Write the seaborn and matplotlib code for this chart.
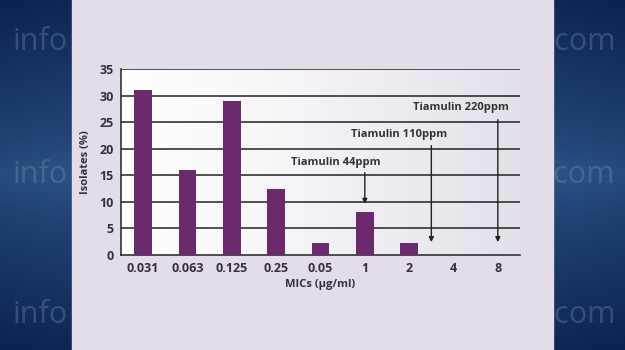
import numpy as np
import pandas as pd
import matplotlib
matplotlib.use("Agg")
import matplotlib.pyplot as plt
import seaborn as sns
from matplotlib.patches import Rectangle

categories = ["0.031", "0.063", "0.125", "0.25", "0.05", "1", "2", "4", "8"]
isolates = [31, 16, 29, 12.4, 2.2, 8, 2.2, 0, 0]
yticks = [0, 5, 10, 15, 20, 25, 30, 35]
annotations = ["Tiamulin 44ppm", "Tiamulin 110ppm", "Tiamulin 220ppm"]
arrow_x = [5, 6.5, 8]
arrow_top = [16.0, 21.1, 26.0]
arrow_bottom = [9.1, 1.9, 1.9]
text_x = [4.35, 5.77, 7.16]
text_y = [17.4, 22.6, 27.7]

sns.set_theme(style="white")
plt.rcParams['font.family'] = ['Open Sans', 'DejaVu Sans']

fig = plt.figure(figsize=(6.25, 3.5), dpi=100)
fig.patch.set_facecolor("#1d3a68")

# background gradient on blue side panels + lavender central panel
bg = fig.add_axes([0, 0, 1, 1], zorder=-10)
gy = np.linspace(0, 1, 100)[:, None]
gx = np.linspace(0, 1, 200)[None, :]
img = np.abs(gy - 0.5) * 1.2 + np.abs(gx - 0.5) * 0.6
bg.imshow(img, extent=[0, 1, 0, 1], aspect="auto", zorder=0,
          cmap=matplotlib.colors.LinearSegmentedColormap.from_list("b", ["#3a6498", "#1e3f70", "#0c2250"]))
bg.add_patch(Rectangle((72 / 625, 0), (553 - 72) / 625, 1, color="#e2dde9", transform=bg.transAxes, zorder=2))
for (x, y, s, ha) in [(0.02, 0.88, "info", "left"), (0.985, 0.88, "x.com", "right"),
                      (0.02, 0.5, "info", "left"), (0.985, 0.5, ".com", "right"),
                      (0.02, 0.1, "info", "left"), (0.985, 0.1, "x.com", "right")]:
    bg.text(x, y, s, color="#8aa3c4", alpha=0.3, fontsize=22, ha=ha, va="center",
            transform=bg.transAxes, zorder=1)
bg.set_xlim(0, 1); bg.set_ylim(0, 1)
bg.axis("off")

ax = fig.add_axes([121 / 625, 1 - 255 / 350, (520 - 121) / 625, (255 - 69) / 350])
ax.set_facecolor("none")
# white-to-lavender gradient inside plot area
g = np.linspace(0, 1, 100)[None, :]
ax.imshow(g, extent=[-0.5, 8.5, 0, 35], aspect="auto", zorder=0,
          cmap=matplotlib.colors.LinearSegmentedColormap.from_list("p", ["#ffffff", "#f4f2f6", "#e4e0ea"]))

df = pd.DataFrame({"MIC": categories, "Isolates": isolates})
sns.barplot(data=df, x="MIC", y="Isolates", color="#6a2a6c", saturation=1, width=0.4,
            linewidth=0, edgecolor="#6a2a6c", ax=ax, zorder=3)

ax.set_xlim(-0.5, 8.5)
ax.set_ylim(0, 35)
ax.set_yticks(yticks)
for yv in yticks[1:]:
    ax.axhline(yv, color="#222222", lw=1.1, zorder=2)
for s in ["top", "right"]:
    ax.spines[s].set_visible(False)
for s in ["left", "bottom"]:
    ax.spines[s].set_color("#222222")
    ax.spines[s].set_linewidth(1.1)
ax.tick_params(axis="both", length=0, labelsize=9, colors="#333333", pad=5)
for lab in ax.get_xticklabels() + ax.get_yticklabels():
    lab.set_fontweight("bold")
ax.set_xlabel("MICs (µg/ml)", fontsize=8, fontweight="bold", color="#333333", labelpad=3)
ax.set_ylabel("Isolates (%)", fontsize=8, fontweight="bold", color="#333333", labelpad=6)

for t, ax_x, top, bot, tx, ty in zip(annotations, arrow_x, arrow_top, arrow_bottom, text_x, text_y):
    ax.annotate("", xy=(ax_x, bot), xytext=(ax_x, top),
                arrowprops=dict(arrowstyle="-|>", color="#222222", lw=1, mutation_scale=7), zorder=5)
    ax.text(tx, ty, t, ha="center", va="center", fontsize=8, fontweight="bold", color="#333333", zorder=5)

fig.savefig("out.png", dpi=100)
